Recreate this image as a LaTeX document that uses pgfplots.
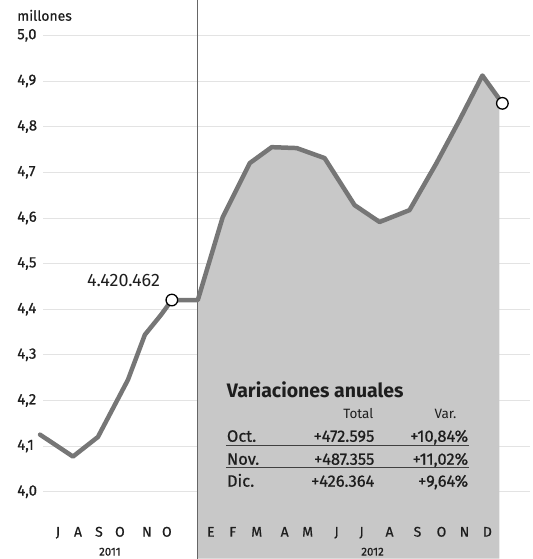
\documentclass[border=0pt]{standalone}
\usepackage{pgfplots}
\pgfplotsset{compat=1.18}
\usepackage{fontspec}
\setmainfont{Fira Sans}
\newfontfamily\medfont{Fira Sans}[FakeBold=0.7]
\definecolor{linegray}{RGB}{118,118,118}
\definecolor{fillgray}{RGB}{200,200,200}
\definecolor{txt}{RGB}{30,30,30}
\begin{document}
\begin{tikzpicture}
\begin{axis}[
  at={(0pt,0pt)}, anchor=south west,
  scale only axis, width=533pt, height=559pt,
  xmin=-2.292, xmax=18.775, ymin=3.8534, ymax=5.0766,
  axis line style={draw=none},
  axis on top,
  major tick length=0pt,
  clip=false,
  /pgf/number format/assume math mode=true,
  xtick={0,0.791,1.621,2.451,3.518,4.308,6.047,6.917,7.866,8.972,9.881,11.028,12.016,13.123,14.229,15.178,16.087,16.996},
  xticklabels={J,A,S,O,N,O,E,F,M,A,M,J,J,A,S,O,N,D},
  ytick={4.0,4.1,4.2,4.3,4.4,4.5,4.6,4.7,4.8,4.9,5.0},
  yticklabels={{4,0},{4,1},{4,2},{4,3},{4,4},{4,5},{4,6},{4,7},{4,8},{4,9},{5,0}},
  yticklabel style={anchor=west, inner sep=0pt, xshift=17pt, font=\medfont\fontsize{15}{15}\selectfont, text=txt},
  xticklabel style={anchor=base, inner sep=0pt, yshift=22pt, font=\medfont\fontsize{14}{14}\selectfont, text=txt},
]
\pgfplotsinvokeforeach{4.0,4.1,4.2,4.3,4.4,4.5,4.6,4.7,4.8,4.9,5.0}{
  \draw[gray!22, line width=0.6pt] (axis cs:-0.6,#1) -- (axis cs:18.7,#1);
}
% shaded 2012 area under the curve
\addplot[draw=none, fill=fillgray] coordinates {
  (5.534,3.8534) (5.534,4.420) (6.522,4.602) (7.589,4.720) (8.458,4.755)
  (9.447,4.753) (10.553,4.731) (11.739,4.628) (12.727,4.591) (13.913,4.617)
  (14.980,4.720) (15.889,4.814) (16.798,4.912) (17.47,4.860) (17.47,3.8534)
} -- cycle;
\draw[black!60, line width=0.8pt] (axis cs:5.534,3.8534) -- (axis cs:5.534,5.0766);
% series
\addplot[linegray, line width=4.5pt, line join=round, line cap=round] coordinates {
  (-0.711,4.125) (0.593,4.077) (1.581,4.120) (2.767,4.245) (3.439,4.344)
  (4.071,4.387) (4.506,4.420) (5.534,4.420) (6.522,4.602) (7.589,4.720)
  (8.458,4.755) (9.447,4.753) (10.553,4.731) (11.739,4.628) (12.727,4.591)
  (13.913,4.617) (14.980,4.720) (15.889,4.814) (16.798,4.912) (17.589,4.851)
};
\addplot[only marks, mark=*, mark size=5.8pt, mark options={fill=white, draw=black, line width=1.3pt}] coordinates {
  (4.506,4.420) (17.589,4.851)
};
\end{axis}
\begin{scope}[x=1pt,y=1pt, text=txt]
  \node[anchor=west, inner sep=0pt, font=\medfont\fontsize{14}{14}\selectfont] at (17,544) {millones};
  \node[anchor=base west, inner sep=0pt, font=\fontsize{18}{18}\selectfont] at (87,272) {4.420.462};
  \node[anchor=base west, inner sep=0pt, font=\bfseries\fontsize{19.5}{19.5}\selectfont] at (227,161) {Variaciones anuales};
  \node[anchor=base east, inner sep=0pt, font=\fontsize{13.5}{13.5}\selectfont] at (374,140) {Total};
  \node[anchor=base east, inner sep=0pt, font=\fontsize{13.5}{13.5}\selectfont] at (457,140) {Var.};
  \node[anchor=base west, inner sep=0pt, font=\medfont\fontsize{16.5}{16.5}\selectfont] at (227,117) {Oct.};
  \node[anchor=base east, inner sep=0pt, font=\medfont\fontsize{16.5}{16.5}\selectfont] at (375,117) {+472.595};
  \node[anchor=base east, inner sep=0pt, font=\medfont\fontsize{16.5}{16.5}\selectfont] at (469,117) {+10,84\%};
  \node[anchor=base west, inner sep=0pt, font=\medfont\fontsize{16.5}{16.5}\selectfont] at (227,94) {Nov.};
  \node[anchor=base east, inner sep=0pt, font=\medfont\fontsize{16.5}{16.5}\selectfont] at (375,94) {+487.355};
  \node[anchor=base east, inner sep=0pt, font=\medfont\fontsize{16.5}{16.5}\selectfont] at (469,94) {+11,02\%};
  \node[anchor=base west, inner sep=0pt, font=\medfont\fontsize{16.5}{16.5}\selectfont] at (227,72) {Dic.};
  \node[anchor=base east, inner sep=0pt, font=\medfont\fontsize{16.5}{16.5}\selectfont] at (375,72) {+426.364};
  \node[anchor=base east, inner sep=0pt, font=\medfont\fontsize{16.5}{16.5}\selectfont] at (469,72) {+9,64\%};
  \draw[black!75, line width=0.9pt] (226,113) -- (470,113);
  \draw[black!75, line width=0.9pt] (226,91) -- (470,91);
  \node[anchor=base, inner sep=0pt, font=\medfont\fontsize{11.5}{11.5}\selectfont] at (110,3) {2011};
  \node[anchor=base, inner sep=0pt, font=\medfont\fontsize{11.5}{11.5}\selectfont] at (373,3) {2012};
\end{scope}
\end{tikzpicture}
\end{document}
